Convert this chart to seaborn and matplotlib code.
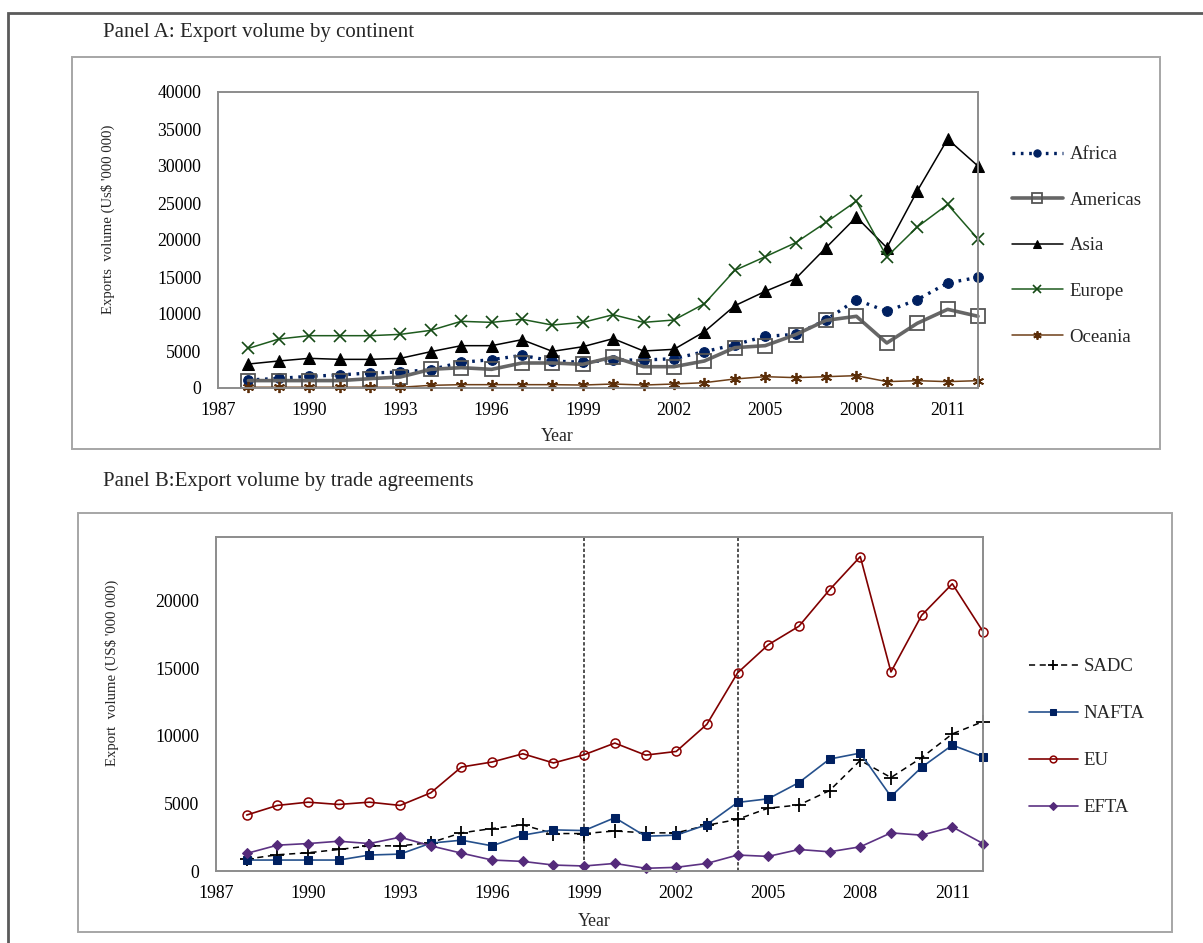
import numpy as np
import pandas as pd
import seaborn as sns
import matplotlib.pyplot as plt
from matplotlib.patches import Rectangle

# ---- data -------------------------------------------------------------
years = list(range(1988, 2013))

# Panel A: export volume by continent (US$ '000 000)
africa = [1080, 1300, 1580, 1760, 2030, 2160, 2480, 3470, 3830, 4410, 3650, 3470,
          3780, 3780, 3960, 4910, 5850, 6980, 7250, 9190, 11930, 10360, 11930, 14190, 14950]
americas = [1000, 1000, 1000, 1000, 1260, 1490, 2520, 2750, 2520, 3380, 3380, 3200,
            4190, 2880, 2880, 3650, 5450, 5720, 7210, 9140, 9690, 6080, 8740, 10630, 9690]
asia = [3240, 3650, 4010, 3870, 3870, 4010, 4910, 5720, 5720, 6530, 4950, 5580,
        6670, 5000, 5230, 7610, 11120, 13060, 14770, 18960, 23100, 18960, 26610, 33640, 29990]
europe = [5360, 6620, 7070, 7070, 7070, 7250, 7790, 9010, 8870, 9280, 8510, 8870,
          9900, 8870, 9190, 11390, 15900, 17740, 19630, 22380, 25260, 17740, 21750, 24810, 20130]
oceania = [100, 100, 100, 100, 100, 100, 360, 450, 450, 450, 450, 400,
           540, 400, 540, 720, 1220, 1530, 1400, 1530, 1670, 860, 990, 860, 990]

# Panel B: export volume by trade agreement (US$ '000 000)
sadc = [880, 1200, 1350, 1590, 1860, 1860, 2100, 2820, 3140, 3410, 2770, 2770,
        2960, 2820, 2820, 3380, 3820, 4650, 4880, 5950, 8180, 6910, 8380, 10140, 11050]
nafta = [810, 810, 810, 810, 1180, 1250, 2060, 2280, 1860, 2650, 3040, 2990,
         3940, 2570, 2650, 3430, 5070, 5340, 6540, 8280, 8720, 5510, 7670, 9310, 8450]
eu = [4140, 4850, 5090, 4920, 5090, 4850, 5780, 7690, 8060, 8670, 7990, 8600,
      9460, 8570, 8840, 10850, 14650, 16730, 18100, 20800, 23250, 14720, 18910, 21240, 17710]
efta = [1300, 1910, 2030, 2200, 2030, 2500, 1860, 1320, 810, 710, 440, 370,
        560, 200, 270, 560, 1180, 1080, 1590, 1420, 1790, 2820, 2650, 3260, 2030]

marker_years = [1999, 2004]
x_ticks = list(range(1987, 2012, 3))
y_ticks_a = list(range(0, 40001, 5000))
y_ticks_b = list(range(0, 20001, 5000))

# ---- style ------------------------------------------------------------
sns.set_theme(style="white")
plt.rcParams["font.family"] = ["Liberation Serif", "DejaVu Serif"]
FS = 12.8

W, H = 1203, 943
fig = plt.figure(figsize=(W / 100, H / 100), dpi=100)


def frac(x0, y0, x1, y1):
    """pixel box (top-left origin) -> figure-fraction rect"""
    return [x0 / W, 1 - y1 / H, (x1 - x0) / W, (y1 - y0) / H]


def box(x0, y0, x1, y1, color, lw):
    l, b, w, h = frac(x0, y0, x1, y1)
    fig.patches.append(Rectangle((l, b), w, h, transform=fig.transFigure,
                                 fill=False, edgecolor=color, linewidth=lw))


# outer frame and panel frames
box(8, 13, 1215, 960, "#5a5a5a", 2.0)
box(72, 57, 1160, 449, "#a6a6a6", 1.4)
box(78, 513, 1172, 932, "#a6a6a6", 1.4)

axA = fig.add_axes(frac(218, 92, 978, 388))
axB = fig.add_axes(frac(216, 537, 983, 871))

df_a = pd.DataFrame({"Year": years, "Africa": africa, "Americas": americas,
                     "Asia": asia, "Europe": europe, "Oceania": oceania})
df_b = pd.DataFrame({"Year": years, "SADC": sadc, "NAFTA": nafta,
                     "EU": eu, "EFTA": efta})

styles_a = {
    "Africa": dict(color="#002060", linestyle=(0, (0.8, 1.7)), linewidth=2.4,
                   marker="o", markersize=7, markerfacecolor="#002060",
                   markeredgecolor="#002060"),
    "Americas": dict(color="#666666", linewidth=2.6, marker="s", markersize=9.5,
                     markerfacecolor="none", markeredgecolor="#555555",
                     markeredgewidth=1.3),
    "Asia": dict(color="black", linewidth=1.1, marker="^", markersize=8.5,
                 markerfacecolor="black", markeredgecolor="black"),
    "Europe": dict(color="#1e5b1e", linewidth=1.1, marker="x", markersize=8,
                   markeredgewidth=1.2, markeredgecolor="#154a15"),
    "Oceania": dict(color="#6e3f18", linewidth=1.1, marker=(6, 2, 0), markersize=8,
                    markeredgewidth=1.3, markeredgecolor="#5a2d08"),
}
styles_b = {
    "SADC": dict(color="black", linestyle=(0, (4, 3)), linewidth=1.1, marker="+",
                 markersize=10, markeredgewidth=1.3, markeredgecolor="black"),
    "NAFTA": dict(color="#25508c", linewidth=1.2, marker="s", markersize=5.5,
                  markerfacecolor="#002060", markeredgecolor="#002060"),
    "EU": dict(color="#800000", linewidth=1.2, marker="o", markersize=6.5,
               markerfacecolor="none", markeredgecolor="#8b0000", markeredgewidth=1.1),
    "EFTA": dict(color="#5c3283", linewidth=1.2, marker="D", markersize=5.5,
                 markerfacecolor="#542a7a", markeredgecolor="#542a7a"),
}

for name, kw in styles_a.items():
    sns.lineplot(data=df_a, x="Year", y=name, ax=axA, label=name, clip_on=False, **kw)
for name, kw in styles_b.items():
    sns.lineplot(data=df_b, x="Year", y=name, ax=axB, label=name, clip_on=False, **kw)

for yr in marker_years:
    axB.axvline(yr, color="#222222", linestyle=(0, (2.2, 1.4)), linewidth=1.1, zorder=1)

# ---- axes formatting --------------------------------------------------
for ax, yt, ylim in ((axA, y_ticks_a, (0, 40000)), (axB, y_ticks_b, (0, 24700))):
    ax.set_xlim(1987, 2012)
    ax.set_ylim(*ylim)
    ax.set_xticks(x_ticks)
    ax.set_yticks(yt)
    ax.set_xticklabels([str(t) for t in x_ticks], fontsize=FS)
    ax.set_yticklabels([str(t) for t in yt], fontsize=FS)
    ax.tick_params(axis="both", length=0, colors="black")
    ax.tick_params(axis="x", pad=10)
    ax.tick_params(axis="y", pad=12)
    for sp in ax.spines.values():
        sp.set_color("#8c8c8c")
        sp.set_linewidth(1.4)
    ax.set_xlabel("")
    ax.set_ylabel("")
    ax.grid(False)

fig.text(103 / W, 1 - 32 / H, "Panel A: Export volume by continent",
         fontsize=15, ha="left", va="center")
fig.text(103 / W, 1 - 482 / H, "Panel B:Export volume by trade agreements",
         fontsize=15, ha="left", va="center")
fig.text(557 / W, 1 - 437 / H, "Year", fontsize=FS, ha="center", va="center")
fig.text(594 / W, 1 - 921 / H, "Year", fontsize=FS, ha="center", va="center")
fig.text(108 / W, 1 - 219 / H, "Exports  volume (Us$ '000 000)", fontsize=10.6,
         rotation=90, ha="center", va="center")
fig.text(112 / W, 1 - 673 / H, "Export  volume (US$ '000 000)", fontsize=10.6,
         rotation=90, ha="center", va="center")

# ---- legends ----------------------------------------------------------
legA = axA.legend(loc="upper left", bbox_to_anchor=(1012 / W, 1 - 146 / H),
                  bbox_transform=fig.transFigure, frameon=False, fontsize=13.5,
                  handlelength=2.7, handletextpad=0.38, labelspacing=1.52,
                  borderpad=0, borderaxespad=0, markerscale=0.75)
legB = axB.legend(loc="upper left", bbox_to_anchor=(1029 / W, 1 - 658 / H),
                  bbox_transform=fig.transFigure, frameon=False, fontsize=13.5,
                  handlelength=2.6, handletextpad=0.3, labelspacing=1.6,
                  borderpad=0, borderaxespad=0, markerscale=0.75)

fig.savefig("out.png", dpi=100)
